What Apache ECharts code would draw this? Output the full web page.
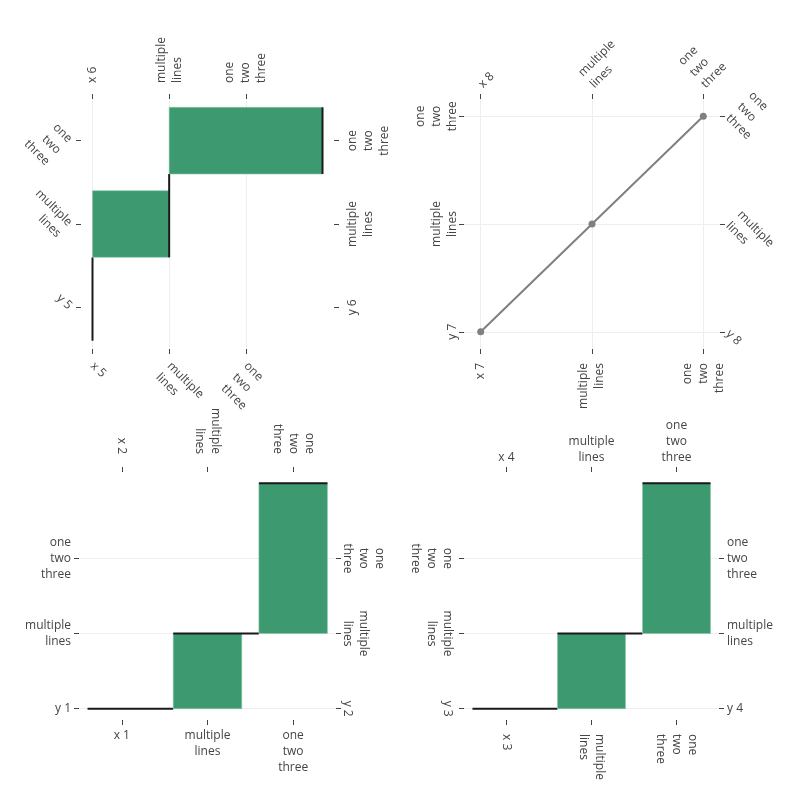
<!DOCTYPE html>
<html><head><meta charset="utf-8">
<script src="https://cdn.jsdelivr.net/npm/echarts@6/dist/echarts.min.js"></script>
<style>html,body{margin:0;padding:0;background:#fff}#c{width:800px;height:800px}</style>
</head><body><div id="c"></div>
<script>
// tick labels for every axis (index = category position)
const ticksX1 = ['x 1', 'multiple\nlines', 'one\ntwo\nthree'];
const ticksX2 = ['x 2', 'multiple\nlines', 'one\ntwo\nthree'];
const ticksY1 = ['y 1', 'multiple\nlines', 'one\ntwo\nthree'];
const ticksY2 = ['y 2', 'multiple\nlines', 'one\ntwo\nthree'];
const ticksX3 = ['x 3', 'multiple\nlines', 'one\ntwo\nthree'];
const ticksX4 = ['x 4', 'multiple\nlines', 'one\ntwo\nthree'];
const ticksY3 = ['y 3', 'multiple\nlines', 'one\ntwo\nthree'];
const ticksY4 = ['y 4', 'multiple\nlines', 'one\ntwo\nthree'];
const ticksX5 = ['x 5', 'multiple\nlines', 'one\ntwo\nthree'];
const ticksX6 = ['x 6', 'multiple\nlines', 'one\ntwo\nthree'];
const ticksY5 = ['y 5', 'multiple\nlines', 'one\ntwo\nthree'];
const ticksY6 = ['y 6', 'multiple\nlines', 'one\ntwo\nthree'];
const ticksX7 = ['x 7', 'multiple\nlines', 'one\ntwo\nthree'];
const ticksX8 = ['x 8', 'multiple\nlines', 'one\ntwo\nthree'];
const ticksY7 = ['y 7', 'multiple\nlines', 'one\ntwo\nthree'];
const ticksY8 = ['y 8', 'multiple\nlines', 'one\ntwo\nthree'];

// waterfall increments (category positions 0,1,2)
const waterfallBottomLeft = [0, 1, 2];
const waterfallBottomRight = [0, 1, 2];
const waterfallTopLeft = [0, 1, 2];   // horizontal
// scatter (category positions)
const scatterX = [0, 1, 2];
const scatterY = [0, 1, 2];

const FONT = 'Open Sans';
const TXT = '#444';

function pad(labels, mode) {
  // mode 'first': first line sits on the tick; 'last': last line sits on the tick
  return labels.map(s => {
    const n = s.split('\n').length;
    if (n === 1 || !mode) return s;
    const blanks = '\n'.repeat(n - 1);
    return mode === 'first' ? blanks + s : s + blanks;
  });
}

function axis(grid, pos, labels, range, rotate, grid_line, margin, anchor) {
  const vals = labels.map((_, i) => i);
  const shown = pad(labels, anchor);
  return {
    type: 'value', gridIndex: grid, position: pos, min: range[0], max: range[1],
    axisLine: {show: false, onZero: false},
    axisTick: {show: true, length: 5, customValues: vals, lineStyle: {color: TXT, width: 1}},
    axisLabel: {
      customValues: vals, rotate: rotate, margin: margin,
      fontFamily: FONT, fontSize: 12, color: TXT, lineHeight: 16,
      formatter: v => shown[Math.round(v)]
    },
    splitLine: {show: !!grid_line, lineStyle: {color: '#eee', width: 1}}
  };
}

function waterfall(grid, deltas, horizontal) {
  let base = 0;
  const data = deltas.map((d, i) => { const s = base; base += d; return [i, s, base]; });
  return {
    type: 'custom', xAxisIndex: 2 * grid, yAxisIndex: 2 * grid, clip: false, silent: true,
    data: data,
    encode: horizontal ? {x: [1, 2], y: 0} : {x: 0, y: [1, 2]},
    renderItem: function (params, api) {
      const i = api.value(0), s = api.value(1), e = api.value(2);
      const last = params.dataIndex === data.length - 1;
      const half = 0.4;
      const pt = (c, v) => horizontal ? api.coord([v, c]) : api.coord([c, v]);
      const a = pt(i - half, s), b = pt(i + half, e);
      const c1 = pt(i - half, e), c2 = pt(last ? i + half : i + 1 - half, e);
      return {type: 'group', children: [
        {type: 'rect', shape: {x: Math.min(a[0], b[0]), y: Math.min(a[1], b[1]),
          width: Math.abs(b[0] - a[0]), height: Math.abs(b[1] - a[1])},
          style: {fill: '#3D9970', stroke: '#8cc7aa', lineWidth: 0.6}},
        {type: 'line', shape: {x1: c1[0], y1: c1[1], x2: c2[0], y2: c2[1]},
          style: {stroke: '#1a1a1a', lineWidth: 2}}
      ]};
    }
  };
}

const chart = echarts.init(document.getElementById('c'), null, {renderer: 'canvas'});
const option = {
  animation: false,
  backgroundColor: '#fff',
  grid: [
    {left: 79, top: 472, width: 257, height: 248},   // bottom-left
    {left: 464, top: 472, width: 255, height: 248},  // bottom-right
    {left: 81, top: 99, width: 253, height: 250},    // top-left
    {left: 464, top: 99, width: 256, height: 250}    // top-right
  ],
  xAxis: [
    axis(0, 'bottom', ticksX1, [-0.5, 2.5], 0, false, 8),
    axis(0, 'top', ticksX2, [-0.5, 2.5], 90, false, 18),
    axis(1, 'bottom', ticksX3, [-0.5, 2.5], -90, false, 14),
    axis(1, 'top', ticksX4, [-0.5, 2.5], 0, false, 6),
    axis(2, 'bottom', ticksX5, [-0.15, 3.15], -45, true, 15, 'first'),
    axis(2, 'top', ticksX6, [-0.15, 3.15], -90, false, 16),
    axis(3, 'bottom', ticksX7, [-0.15, 2.15], 90, true, 14),
    axis(3, 'top', ticksX8, [-0.15, 2.15], -45, false, 13, 'last')
  ],
  yAxis: [
    axis(0, 'left', ticksY1, [-0.15, 3.15], 0, true, 8),
    axis(0, 'right', ticksY2, [-0.15, 3.15], -90, false, 3),
    axis(1, 'left', ticksY3, [-0.15, 3.15], -90, true, 9),
    axis(1, 'right', ticksY4, [-0.15, 3.15], 0, false, 8),
    axis(2, 'left', ticksY5, [-0.5, 2.5], -45, false, 11, 'first'),
    axis(2, 'right', ticksY6, [-0.5, 2.5], 90, false, 11),
    axis(3, 'left', ticksY7, [-0.16, 2.16], 90, true, 3),
    axis(3, 'right', ticksY8, [-0.16, 2.16], -45, false, 8, 'last')
  ],
  series: [
    waterfall(0, waterfallBottomLeft, false),
    waterfall(1, waterfallBottomRight, false),
    waterfall(2, waterfallTopLeft, true),
    {
      type: 'line', xAxisIndex: 6, yAxisIndex: 6,
      data: scatterX.map((x, i) => [x, scatterY[i]]),
      symbol: 'circle', symbolSize: 7, showSymbol: true,
      lineStyle: {color: '#808080', width: 2},
      itemStyle: {color: '#808080'},
      silent: true
    }
  ]
};
chart.setOption(option);
</script>
</body></html>
